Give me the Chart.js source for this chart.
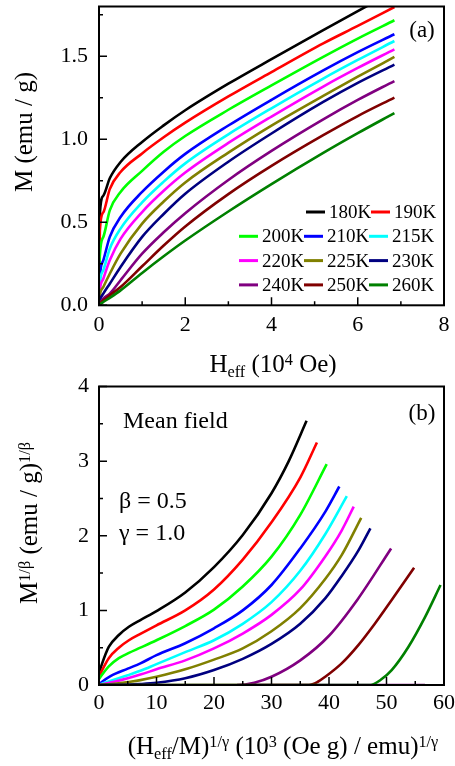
<!DOCTYPE html>
<html>
<head>
<meta charset="utf-8">
<script src="https://cdn.jsdelivr.net/npm/chart.js@4.4.0/dist/chart.umd.min.js"></script>
<style>
  body { margin: 0; background: #fff; }
  #wrap { position: relative; width: 455px; height: 766px; overflow: hidden;
          font-family: "Liberation Serif", "Times New Roman", serif; color: #000; }
  canvas { position: absolute; left: 0; }
  #chartTop { top: 0; }
  #chartBottom { top: 370px; }
  .lbl { position: absolute; white-space: nowrap; line-height: 1; }
  .c { transform: translate(-50%, -50%); }
  .l { transform: translateY(-50%); }
  .r90 { transform: translate(-50%, -50%) rotate(-90deg); }
  .sup { position: relative; top: -0.45em; font-size: 65%; }
  .sub { position: relative; top: 0.3em; font-size: 65%; }
</style>
</head>
<body>
<div id="wrap">
  <canvas id="chartTop" width="455" height="380"></canvas>
  <canvas id="chartBottom" width="455" height="396"></canvas>

  <!-- panel (a) texts -->
  <div class="lbl r90" style="left:23px;top:132px;font-size:25px">M (emu / g)</div>
  <div class="lbl c" style="left:273px;top:363px;font-size:25px">H<span class="sub">eff</span> (10<span class="sup">4</span> Oe)</div>
  <div class="lbl c" style="left:422px;top:29px;font-size:23px">(a)</div>

  <!-- panel (b) texts -->
  <div class="lbl r90" style="left:28px;top:523px;font-size:25px">M<span class="sup">1/β</span> (emu / g)<span class="sup">1/β</span></div>
  <div class="lbl c" style="left:283px;top:745px;font-size:25px">(H<span class="sub">eff</span>/M)<span class="sup">1/γ</span> (10<span class="sup">3</span> (Oe g) / emu)<span class="sup">1/γ</span></div>
  <div class="lbl c" style="left:422px;top:412px;font-size:23px">(b)</div>
  <div class="lbl l" style="left:123px;top:420px;font-size:24px">Mean field</div>
  <div class="lbl l" style="left:119px;top:500px;font-size:24px">β = 0.5</div>
  <div class="lbl l" style="left:119px;top:532px;font-size:24px">γ = 1.0</div>
</div>

<script>
  "use strict";

  // Temperatures and colours
  const temps = ["180K", "190K", "200K", "210K", "215K", "220K", "225K", "230K", "240K", "250K", "260K"];
  const lineColors = ["#000000", "#ff0000", "#00ff00", "#0000ff", "#00ffff", "#ff00ff",
                      "#808000", "#000080", "#800080", "#800000", "#008000"];

  // (a) M vs Heff, Heff in 10^4 Oe
  const fieldH = [0, 0.02, 0.1, 0.25, 0.5, 1, 1.5, 2, 3, 4, 5.2, 6, 6.85];
  const mag180 = [0, 0.55, 0.66, 0.765, 0.863, 0.984, 1.084, 1.175, 1.335, 1.483, 1.657, 1.772, 1.893];
  const mag190 = [0, 0.45, 0.56, 0.7, 0.803, 0.915, 1.012, 1.1, 1.258, 1.405, 1.578, 1.683, 1.797];
  const mag200 = [0, 0.3, 0.412, 0.572, 0.683, 0.81, 0.925, 1.02, 1.178, 1.325, 1.497, 1.607, 1.717];
  const mag210 = [0, 0.17, 0.271, 0.412, 0.532, 0.683, 0.805, 0.912, 1.083, 1.238, 1.415, 1.525, 1.633];
  const mag215 = [0, 0.13, 0.211, 0.341, 0.462, 0.62, 0.745, 0.855, 1.03, 1.187, 1.366, 1.478, 1.592];
  const mag220 = [0, 0.09, 0.16, 0.271, 0.4, 0.562, 0.69, 0.8, 0.978, 1.137, 1.318, 1.43, 1.542];
  const mag225 = [0, 0.06, 0.11, 0.19, 0.311, 0.492, 0.625, 0.74, 0.92, 1.083, 1.262, 1.377, 1.496];
  const mag230 = [0, 0.03, 0.07, 0.13, 0.231, 0.412, 0.55, 0.672, 0.865, 1.035, 1.225, 1.34, 1.45];
  const mag240 = [0, 0.01, 0.04, 0.07, 0.151, 0.311, 0.44, 0.555, 0.755, 0.93, 1.12, 1.237, 1.351];
  const mag250 = [0, 0.008, 0.03, 0.06, 0.11, 0.235, 0.36, 0.475, 0.67, 0.84, 1.025, 1.14, 1.251];
  const mag260 = [0, 0.005, 0.02, 0.045, 0.09, 0.195, 0.295, 0.39, 0.565, 0.73, 0.918, 1.037, 1.158];

  // (b) Arrott plot, [ (Heff/M)^(1/g), M^(1/b) ]
  const arrott180 = [[0, 0.156], [0.55, 0.29], [1.7, 0.51], [3.45, 0.67], [5.2, 0.78], [7.2, 0.87], [10, 0.99],
                     [15, 1.24], [20, 1.58], [25, 2.01], [30, 2.57], [33, 3.0], [36.1, 3.54]];
  const arrott190 = [[0, 0.12], [0.55, 0.2], [1.7, 0.36], [3.45, 0.5], [5.2, 0.6], [7.2, 0.685], [10, 0.8],
                     [15, 1.0], [20, 1.28], [25, 1.68], [30, 2.18], [35, 2.78], [37.9, 3.25]];
  const arrott200 = [[0, 0.08], [0.55, 0.14], [1.7, 0.25], [3.45, 0.36], [5.2, 0.43], [7.2, 0.5], [10, 0.6],
                     [15, 0.79], [20, 1.01], [25, 1.32], [30, 1.72], [35, 2.28], [39.6, 2.96]];
  const arrott210 = [[0, 0], [0.5, 0.04], [2, 0.12], [5, 0.22], [7.2, 0.29], [10, 0.4], [15, 0.56],
                     [20, 0.76], [25, 1.0], [30, 1.34], [35, 1.83], [39.34, 2.32], [41.8, 2.66]];
  const arrott215 = [[0, 0], [1, 0.03], [3, 0.08], [5, 0.13], [7.2, 0.19], [10, 0.28], [15, 0.44],
                     [20, 0.6], [25, 0.82], [30, 1.11], [35, 1.53], [39.34, 2.02], [43.1, 2.53]];
  const arrott220 = [[0, 0], [3, 0.05], [5, 0.09], [7.2, 0.14], [10, 0.21], [15, 0.33], [20, 0.49],
                     [25, 0.69], [30, 0.94], [35, 1.28], [39.5, 1.74], [42.2, 2.07], [44.3, 2.39]];
  const arrott225 = [[0, 0], [3, 0.02], [5, 0.04], [7.2, 0.065], [10, 0.11], [15, 0.21], [20, 0.34],
                     [25, 0.49], [30, 0.72], [35, 1.03], [39.34, 1.42], [42.2, 1.74], [45.6, 2.24]];
  const arrott230 = [[0, 0], [5, 0.005], [7.2, 0.013], [10, 0.03], [15, 0.09], [20, 0.2], [25, 0.35],
                     [30, 0.55], [35, 0.82], [39.34, 1.16], [42.2, 1.46], [45.1, 1.8], [47.2, 2.1]];
  const arrott240 = [[56.7, 0], [24, 0], [27, 0.03], [30, 0.11], [35, 0.33], [40, 0.66], [45, 1.15],
                     [50.8, 1.83]];
  const arrott250 = [[0, 0], [36.5, 0], [38, 0.04], [39.34, 0.11], [42.2, 0.29], [45.1, 0.535], [48, 0.825],
                     [50.9, 1.14], [54.8, 1.57]];
  const arrott260 = [[0, 0], [47.2, 0], [49, 0.07], [50.9, 0.2], [53.8, 0.51], [56.7, 0.91], [59.4, 1.34]];

  const magSeries = [mag180, mag190, mag200, mag210, mag215, mag220, mag225, mag230, mag240, mag250, mag260];
  const arrottSeries = [arrott180, arrott190, arrott200, arrott210, arrott215, arrott220, arrott225,
                        arrott230, arrott240, arrott250, arrott260];

  const fontFamily = '"Liberation Serif", "Times New Roman", serif';
  Chart.defaults.color = "#000";
  Chart.defaults.font.family = fontFamily;

  // Frame and inward ticks (major + minor)
  const frameTicks = {
    id: "frameTicks",
    afterDatasetsDraw(chart, args, opts) {
      const { ctx, chartArea: a, scales } = chart;
      const x = scales.x, y = scales.y;
      ctx.save();
      ctx.strokeStyle = "#000";
      ctx.lineWidth = 1.5;
      ctx.beginPath();
      for (let v = x.min; v <= x.max + 1e-9; v += opts.xMinor) {
        const major = Math.abs(v / opts.xMajor - Math.round(v / opts.xMajor)) < 1e-6;
        const px = x.getPixelForValue(v);
        ctx.moveTo(px, a.bottom);
        ctx.lineTo(px, a.bottom - (major ? 8 : 4));
      }
      for (let v = y.min; v <= y.max + 1e-9; v += opts.yMinor) {
        const major = Math.abs(v / opts.yMajor - Math.round(v / opts.yMajor)) < 1e-6;
        const py = y.getPixelForValue(v);
        ctx.moveTo(a.left, py);
        ctx.lineTo(a.left + (major ? 8 : 4), py);
      }
      ctx.stroke();
      ctx.lineWidth = 2;
      ctx.strokeRect(a.left, a.top, a.right - a.left, a.bottom - a.top);
      ctx.restore();
    },
  };

  // Legend inside panel (a)
  const insideLegend = {
    id: "insideLegend",
    afterDraw(chart) {
      const ctx = chart.ctx;
      const rows = [[0, 1], [2, 3, 4], [5, 6, 7], [8, 9, 10]];
      ctx.save();
      ctx.font = "19px " + fontFamily;
      ctx.textBaseline = "middle";
      ctx.fillStyle = "#000";
      rows.forEach(function (row, r) {
        const yc = 212 + r * 24.3;
        const startCol = 3 - row.length;
        row.forEach(function (idx, k) {
          const ds = chart.data.datasets[idx];
          const x0 = 239 + (startCol + k) * 65 + (row.length === 2 ? 2 : 0);
          ctx.strokeStyle = ds.borderColor;
          ctx.lineWidth = 3;
          ctx.beginPath();
          ctx.moveTo(x0, yc);
          ctx.lineTo(x0 + 19, yc);
          ctx.stroke();
          ctx.fillText(ds.label, x0 + 23, yc + 1);
        });
      });
      ctx.restore();
    },
  };

  function axisOpts(min, max, step, extra) {
    return Object.assign({
      type: "linear",
      min: min,
      max: max,
      grid: { display: false, drawTicks: false },
      border: { display: false },
      ticks: { stepSize: step, includeBounds: false, font: { size: 22 }, color: "#000" },
    }, extra);
  }

  function lineDatasets(points) {
    return temps.map(function (t, i) {
      return {
        label: t,
        data: points(i),
        borderColor: lineColors[i],
        borderWidth: 2.6,
        pointRadius: 0,
        fill: false,
        cubicInterpolationMode: "monotone",
        order: temps.length - i,
      };
    });
  }

  // Top chart: M vs Heff
  const ctxTop = document.getElementById("chartTop").getContext("2d");
  const chartTop = new Chart(ctxTop, {
    type: "line",
    data: {
      datasets: lineDatasets(function (i) {
        return fieldH.map(function (h, j) { return { x: h, y: magSeries[i][j] }; });
      }),
    },
    options: {
      responsive: false,
      animation: false,
      layout: { padding: { left: 0, right: 11, top: 6.5, bottom: 0 } },
      plugins: {
        legend: { display: false },
        tooltip: { enabled: false },
        frameTicks: { xMajor: 2, xMinor: 1, yMajor: 0.5, yMinor: 0.25 },
      },
      scales: {
        x: axisOpts(0, 8, 2, {
          afterFit: function (s) { s.height = 74.7; s.paddingLeft = 0; s.paddingRight = 0; },
        }),
        y: axisOpts(0, 1.8, 0.5, {
          afterFit: function (s) { s.width = 99; s.paddingTop = 0; s.paddingBottom = 0; },
        }),
      },
    },
    plugins: [frameTicks, insideLegend],
  });
  chartTop.options.scales.x.ticks.padding = 7;
  chartTop.options.scales.y.ticks.padding = 11;
  chartTop.options.scales.y.ticks.callback = function (v) { return v.toFixed(1); };
  chartTop.update();

  // Bottom chart: Arrott plot
  const ctxBottom = document.getElementById("chartBottom").getContext("2d");
  const chartBottom = new Chart(ctxBottom, {
    type: "line",
    data: {
      datasets: lineDatasets(function (i) {
        return arrottSeries[i].map(function (p) { return { x: p[0], y: p[1] }; });
      }),
    },
    options: {
      responsive: false,
      animation: false,
      layout: { padding: { left: 0, right: 11, top: 16.5, bottom: 0 } },
      plugins: {
        legend: { display: false },
        tooltip: { enabled: false },
        frameTicks: { xMajor: 10, xMinor: 5, yMajor: 1, yMinor: 0.5 },
      },
      scales: {
        x: axisOpts(0, 60, 10, {
          afterFit: function (s) { s.height = 81; s.paddingLeft = 0; s.paddingRight = 0; },
        }),
        y: axisOpts(0, 4, 1, {
          afterFit: function (s) { s.width = 99; s.paddingTop = 0; s.paddingBottom = 0; },
        }),
      },
    },
    plugins: [frameTicks],
  });
  chartBottom.options.scales.x.ticks.padding = 5;
  chartBottom.options.scales.y.ticks.padding = 10;
  chartBottom.update();
</script>
</body>
</html>
